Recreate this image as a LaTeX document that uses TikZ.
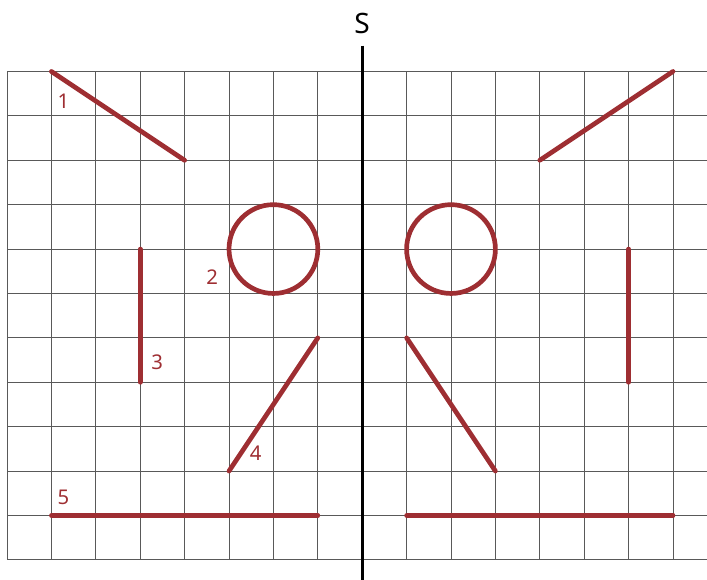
\documentclass[tikz,border=0pt]{standalone}
\usepackage{fontspec}
\setmainfont{Noto Sans}

\begin{document}
\begin{tikzpicture}[
  x=1cm, y=-1cm,
  gridline/.style={draw=black!65, line width=0.6pt},
  axis/.style={draw=black, line width=2pt},
  fig/.style={draw=figred, line width=3pt, line cap=round},
  num/.style={font=\fontsize{13}{15}\selectfont, text=figred, inner sep=0pt}
]
\definecolor{figred}{RGB}{158,46,50}
\useasboundingbox (-0.158,-1.61) rectangle (15.766,11.45);

% squared paper
\draw[gridline] (0,0) grid (15.766,11);

% left figure
\draw[fig] (1,0) -- (4,2);
\draw[fig] (6,4) circle[radius=1];
\draw[fig] (3,4) -- (3,7);
\draw[fig] (7,6) -- (5,9);
\draw[fig] (1,10) -- (7,10);

% right figure
\draw[fig] (15,0) -- (12,2);
\draw[fig] (10,4) circle[radius=1];
\draw[fig] (14,4) -- (14,7);
\draw[fig] (9,6) -- (11,9);
\draw[fig] (9,10) -- (15,10);

% numbers
\node[num] (l1) at (1.27,0.66) {1};
\node[num] (l2) at (4.62,4.63) {2};
\node[num] (l3) at (3.38,6.56) {3};
\node[num] (l4) at (5.6,8.6)   {4};
\node[num] (l5) at (1.27,9.6)  {5};

% axis of symmetry
\draw[axis] (8,-0.58) -- (8,11.45);
\node[font=\fontsize{18}{20}\selectfont, inner sep=0pt] (s) at (8,-1.07) {S};

\end{tikzpicture}
\end{document}
